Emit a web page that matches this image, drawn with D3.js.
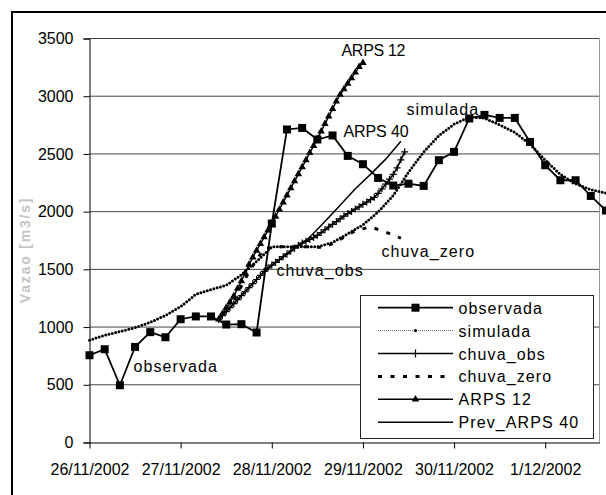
<!DOCTYPE html>
<meta charset="utf-8">
<head>
  <title>Vazao observada x simulada</title>
</head>
<style>
  body { margin: 0; background: #fff; }
  text { font-family: "Liberation Sans", Arial, sans-serif; fill: #000; }
  .tick text { font-size: 16px; }
  .lbl { font-size: 16px; letter-spacing: 1.1px; }
</style>
<body>
<svg width="606" height="495"></svg>
<script src="https://cdnjs.cloudflare.com/ajax/libs/d3/7.8.5/d3.min.js"></script>
<script>

// x labels, one per day (the series are read in hours from 26/11/2002 00h)
var dayLabels = ["26/11/2002", "27/11/2002", "28/11/2002", "29/11/2002", "30/11/2002", "1/12/2002"];
var yTicks = [0, 500, 1000, 1500, 2000, 2500, 3000, 3500];

// every 4 h from hour 0
var observada = [756, 808, 496, 828, 956, 912, 1068, 1092, 1092, 1022, 1025, 953,
  1897, 2712, 2725, 2625, 2660, 2483, 2411, 2292, 2226, 2242, 2223, 2446, 2518,
  2807, 2838, 2812, 2812, 2604, 2402, 2272, 2272, 2136, 2010];
var simulada = [886, 929, 961, 995, 1041, 1101, 1177, 1283, 1325, 1362, 1453, 1568,
  1695, 1695, 1695, 1695, 1732, 1809, 1885, 1998, 2141, 2341, 2517, 2658, 2758,
  2819, 2810, 2752, 2686, 2585, 2446, 2322, 2241, 2191, 2160];

// forecasts, all start at hour 34
var fcStart = 34;
// hourly
var chuvaObs = [1066, 1100, 1134, 1169, 1203, 1237, 1272, 1307, 1342, 1377, 1412, 1447, 1482,
  1512, 1537, 1561, 1585, 1610, 1634, 1659, 1683, 1708, 1728, 1743, 1759, 1775,
  1795, 1819, 1843, 1867, 1890, 1914, 1938, 1962, 1983, 2002, 2022, 2042, 2063,
  2083, 2104, 2124, 2159, 2198, 2238, 2281, 2323, 2379, 2449, 2518];
var arps12 = [1066, 1116, 1166, 1216, 1268, 1334, 1399, 1468, 1542, 1605, 1663, 1721, 1780,
  1838, 1897, 1958, 2019, 2080, 2141, 2203, 2264, 2325, 2386, 2447, 2509, 2570,
  2631, 2696, 2761, 2825, 2890, 2955, 3013, 3061, 3109, 3158, 3206, 3254, 3290];
// every 4 h
var chuvaZero = [1066, 1230, 1480, 1680, 1695, 1695, 1695, 1690, 1760, 1835, 1868, 1822, 1770];
var arps40 = [1066, 1203, 1342, 1482, 1585, 1683, 1778, 1915, 2055, 2198, 2323, 2455, 2610];

var svg = d3.select("svg");

// outer chart frame (runs off the picture at right and bottom)
svg.append("rect")
  .attr("x", 12).attr("y", 12).attr("width", 700).attr("height", 600)
  .attr("fill", "#fff").attr("stroke", "#000").attr("stroke-width", 2);

var pLeft = 89.5, pRight = 599.5, pTop = 38.5, pBottom = 442.5;

var x = d3.scaleLinear().domain([0, 134.3]).range([pLeft, pRight]);
var y = d3.scaleLinear().domain([0, 3500]).range([pBottom, pTop]);

function pts(values, start, step) {
  return values.map(function(v, i) { return { h: start + i * step, v: v }; });
}

var line = d3.line()
  .x(function(d) { return x(d.h); })
  .y(function(d) { return y(d.v); });

// grid
svg.append("g").selectAll("line")
  .data(yTicks.slice(1))
  .enter().append("line")
  .attr("x1", pLeft).attr("x2", pRight)
  .attr("y1", function(d) { return y(d); })
  .attr("y2", function(d) { return y(d); })
  .attr("stroke", "#444").attr("stroke-width", 1);

svg.append("line")
  .attr("x1", pRight).attr("x2", pRight).attr("y1", pTop).attr("y2", pBottom)
  .attr("stroke", "#999");

// axes
var yAxis = d3.axisLeft(y).tickValues(yTicks).tickFormat(d3.format("d"))
  .tickSize(6).tickPadding(10);
svg.append("g").attr("transform", "translate(" + pLeft + ",0)").call(yAxis)
  .call(function(g) { g.select(".domain").attr("stroke", "#000"); });

var xAxis = d3.axisBottom(x)
  .tickValues(dayLabels.map(function(d, i) { return i * 24; }))
  .tickFormat(function(d) { return dayLabels[d / 24]; })
  .tickSize(6).tickPadding(15).tickSizeOuter(0);
svg.append("g").attr("transform", "translate(0," + pBottom + ")").call(xAxis);

svg.selectAll(".tick text").attr("font-family", "Liberation Sans, Arial, sans-serif").attr("fill", "#000");
svg.selectAll(".tick line").attr("stroke", "#000");

svg.append("text")
  .attr("transform", "translate(25,250) rotate(-90)")
  .attr("text-anchor", "middle").attr("dominant-baseline", "central")
  .style("font-size", "14px").style("font-weight", "bold").style("letter-spacing", "1.8px")
  .style("fill", "#c4c4c4")
  .text("Vazao [m3/s]");

// series
var plot = svg.append("g");

function drawLine(data, style) {
  var p = plot.append("path").datum(data).attr("d", line)
    .attr("fill", "none").attr("stroke", "#000");
  Object.keys(style).forEach(function(k) { p.attr(k, style[k]); });
  return p;
}

var triangle = d3.symbol().type(d3.symbolTriangle).size(24);

function drawMarkers(data, kind) {
  var g = plot.append("g");
  var sel = g.selectAll("path").data(data).enter().append("path")
    .attr("transform", function(d) { return "translate(" + x(d.h) + "," + y(d.v) + ")"; });
  if (kind == "square") sel.attr("d", "M-4,-4H4V4H-4Z").attr("fill", "#000");
  else if (kind == "triangle") sel.attr("d", triangle).attr("fill", "#000");
  else if (kind == "plus") sel.attr("d", "M-3.5,0H3.5M0,-3.5V3.5").attr("stroke", "#000").attr("stroke-width", 1.2);
}

var obsPts = pts(observada, 0, 4);
var simPts = pts(simulada, 0, 4);
var cObsPts = pts(chuvaObs, fcStart, 1);
var cZeroPts = pts(chuvaZero, fcStart, 4);
var a12Pts = pts(arps12, fcStart, 1);
var a40Pts = pts(arps40, fcStart, 4);

drawLine(simPts, { "stroke-width": 3, "stroke-dasharray": "0 3.4", "stroke-linecap": "round" });
drawLine(cZeroPts, { "stroke-width": 3, "stroke-dasharray": "4 8.5" });
drawLine(cObsPts, { "stroke-width": 1.6 });
drawMarkers(cObsPts, "plus");
drawLine(a40Pts, { "stroke-width": 1.5 });
drawLine(a12Pts, { "stroke-width": 1.5 });
drawMarkers(a12Pts, "triangle");
drawLine(obsPts, { "stroke-width": 1.8 });
drawMarkers(obsPts, "square");

// labels in the plot
function label(t, lx, ly, cls, ls) {
  var e = svg.append("text").attr("class", cls).attr("x", lx).attr("y", ly).text(t);
  if (ls != null) e.style("letter-spacing", ls);
}
label("ARPS 12", 341.5, 56, "lbl", "-0.3px");
label("simulada", 406.5, 115, "lbl");
label("ARPS 40", 343.5, 137, "lbl", "-0.1px");
label("chuva_zero", 381.5, 257, "lbl");
label("chuva_obs", 276.5, 276, "lbl");
label("observada", 133.5, 372, "lbl");

// legend
var legNames = ["observada", "simulada", "chuva_obs", "chuva_zero", "ARPS 12", "Prev_ARPS 40"];
var leg = svg.append("g");
leg.append("rect")
  .attr("x", 360.5).attr("y", 295.5).attr("width", 233).attr("height", 143)
  .attr("fill", "#fff").attr("stroke", "#222");

legNames.forEach(function(name, i) {
  var cy = 307.7 + i * 22.9;
  var l = leg.append("line").attr("x1", 378).attr("x2", 453).attr("y1", cy).attr("y2", cy)
    .attr("stroke", "#000").attr("stroke-width", 1.5);
  var mx = 415.5;
  if (i == 0) {
    l.attr("stroke-width", 1.8);
    leg.append("rect").attr("x", mx - 4).attr("y", cy - 4).attr("width", 8).attr("height", 8);
  } else if (i == 1) {
    l.attr("stroke-width", 1).attr("stroke", "#666").attr("stroke-dasharray", "1 1");
    leg.append("circle").attr("cx", mx).attr("cy", cy).attr("r", 1.6);
  } else if (i == 2) {
    leg.append("path").attr("d", "M" + (mx - 3.5) + "," + cy + "H" + (mx + 3.5) + "M" + mx + "," + (cy - 4) + "V" + (cy + 4))
      .attr("stroke", "#000").attr("stroke-width", 1.2);
  } else if (i == 3) {
    l.attr("stroke-width", 3).attr("stroke-dasharray", "4 8.5");
  } else if (i == 4) {
    leg.append("path").attr("d", triangle).attr("transform", "translate(" + mx + "," + cy + ")");
  }
  leg.append("text").attr("class", "lbl").attr("x", 458.5).attr("y", cy + 6).text(name);
});

</script>
</body>
